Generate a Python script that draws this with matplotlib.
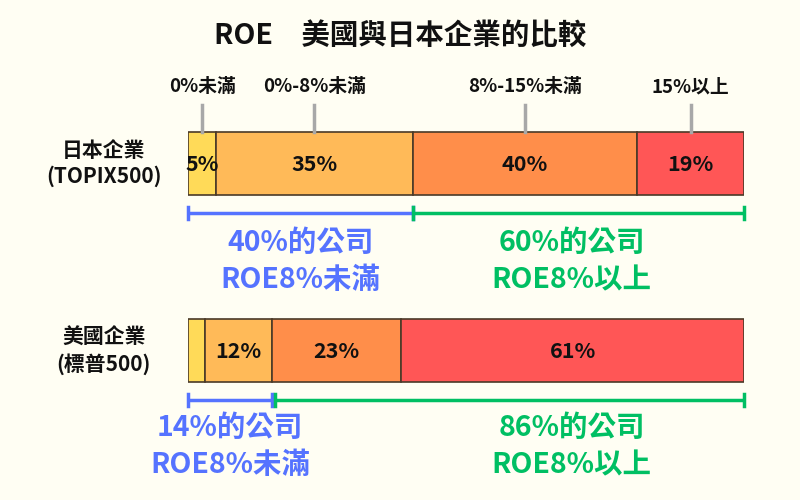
import numpy as np
import matplotlib.pyplot as plt

plt.rcParams['font.family'] = ['Noto Sans CJK TC', 'DejaVu Sans']

title = 'ROE\u3000美國與日本企業的比較'
groups = ['日本企業\n(TOPIX500)', '美國企業\n(標普500)']
bands = ['0%未滿', '0%-8%未滿', '8%-15%未滿', '15%以上']
jp_vals = [5, 35, 40, 19]
us_vals = [3, 12, 23, 61]
jp_labels = ['5%', '35%', '40%', '19%']
us_labels = ['', '12%', '23%', '61%']
jp_summary = [('40%的公司', 'ROE8%未滿'), ('60%的公司', 'ROE8%以上')]
us_summary = [('14%的公司', 'ROE8%未滿'), ('86%的公司', 'ROE8%以上')]

colors = ['#FFDA58', '#FFBA58', '#FF8E4A', '#FF5656']
blue = '#5573FF'
green = '#00BF63'
bg = '#FFFEF3'

fig = plt.figure(figsize=(8, 5), dpi=100, facecolor=bg)
# axes spans the bar width; y in pixel-like units
ax = fig.add_axes([188 / 800, 0, 556 / 800, 1])
ax.set_facecolor(bg)
total = sum(jp_vals)
ax.set_xlim(0, total)
ax.set_ylim(500, 0)
ax.axis('off')

fig.text(0.5, 1 - 36 / 500, title, ha='center', va='center',
         fontsize=20.5, fontweight='bold', color='#111111')

rows = [(163.5, jp_vals, jp_labels, jp_summary, 213, 243),
        (350.5, us_vals, us_labels, us_summary, 400, 428)]

for i, (yc, vals, labels, summ, by, ty) in enumerate(rows):
    left = np.concatenate([[0], np.cumsum(vals)[:-1]])
    ax.barh(yc, vals, left=left, height=63, color=colors,
            edgecolor='#4a3a28', linewidth=1.2)
    for l, v, lab in zip(left, vals, labels):
        if lab:
            ax.text(l + v / 2, yc + 1, lab, ha='center', va='center',
                    fontsize=15.5, fontweight='bold', color='#111111')
    ax.text(-15.0, yc, groups[i], ha='center', va='center', fontsize=15,
            fontweight='bold', color='#111111', linespacing=1.3, clip_on=False)

    # brackets: below 8% and 8% or more
    split = vals[0] + vals[1]
    gap = 0.5 if i == 1 else 0
    for x0, x1, c in [(0, split, blue), (split + gap, total, green)]:
        ax.plot([x0, x1], [by, by], color=c, lw=2.5, solid_capstyle='butt', clip_on=False)
        for xx in (x0, x1):
            ax.plot([xx, xx], [by - 6, by + 6], color=c, lw=2.5, clip_on=False)
    blue_x = split / 2
    green_x = 68.3
    for x, c, (t1, t2) in [(blue_x, blue, summ[0]), (green_x, green, summ[1])]:
        ax.text(x, ty, t1, ha='center', va='center', fontsize=20.5,
                fontweight='bold', color=c, clip_on=False)
        ax.text(x, ty + 37, t2, ha='center', va='center', fontsize=20.5,
                fontweight='bold', color=c, clip_on=False)

# band names above the Japan bar with gray pointer lines
jl = np.concatenate([[0], np.cumsum(jp_vals)[:-1]])
for l, v, name in zip(jl, jp_vals, bands):
    xc = l + v / 2
    ax.plot([xc, xc], [105, 132], color='#A8A8A8', lw=2.5)
    ax.text(xc, 87, name, ha='center', va='center', fontsize=13.5,
            fontweight='bold', color='#111111', clip_on=False)

fig.savefig('out.png', dpi=100, facecolor=bg)
